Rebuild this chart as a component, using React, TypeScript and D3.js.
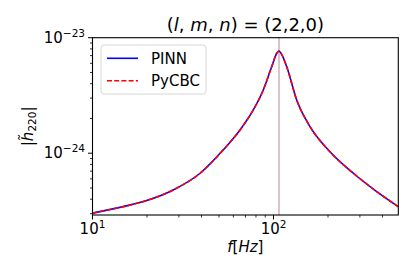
import { useEffect, useRef } from 'react'
import * as d3 from 'd3'

// values (Hz, strain amplitude)
const freqs = [10, 14.8, 19.9, 27.9, 39.3, 52.8, 65.3, 77.3, 87.8, 97.7, 104.2, 107.2, 110.5, 118.3, 134.3, 159.1, 205, 276, 371.5, 489]
const pinnAmp = [3.03e-25, 3.45e-25, 3.89e-25, 4.81e-25, 6.71e-25, 1.07e-24, 1.59e-24, 2.37e-24, 3.53e-24, 5.61e-24, 7.33e-24, 7.67e-24, 7.25e-24, 5.61e-24, 2.89e-24, 1.7e-24, 1.03e-24, 6.71e-25, 4.66e-25, 3.45e-25]
const pycbcAmp = [3.03e-25, 3.45e-25, 3.89e-25, 4.81e-25, 6.71e-25, 1.07e-24, 1.59e-24, 2.37e-24, 3.53e-24, 5.61e-24, 7.33e-24, 7.67e-24, 7.25e-24, 5.61e-24, 2.89e-24, 1.7e-24, 1.03e-24, 6.71e-25, 4.66e-25, 3.45e-25]
const peakFreq = 107.2
const xDomain = [10, 489]
const yDomain = [2.92e-25, 1e-23]
const xMajor = [10, 100]
const xMajorExp = ['1', '2']
const yMajor = [1e-24, 1e-23]
const yMajorExp = ['\u221224', '\u221223']
const xMinor = [20, 30, 40, 50, 60, 70, 80, 90, 200, 300, 400]
const yMinor = [3e-25, 4e-25, 5e-25, 6e-25, 7e-25, 8e-25, 9e-25, 2e-24, 3e-24, 4e-24, 5e-24, 6e-24, 7e-24, 8e-24, 9e-24]
const legendLabels = ['PINN', 'PyCBC']

const W = 415
const H = 277
const FONT = 'DejaVu Sans'

const App = () => {
  const svgRef = useRef(null)

  useEffect(() => {
    const left = 92.5
    const right = 398.3
    const top = 37.7
    const bottom = 215

    const svg = d3.select(svgRef.current)
    svg.selectAll('*').remove()
    svg.attr('width', W).attr('height', H)

    const x = d3.scaleLog().domain(xDomain).range([left, right])
    const y = d3.scaleLog().domain(yDomain).range([bottom, top])

    const g = svg.append('g').attr('font-family', FONT)

    // peak marker
    g.append('line')
      .attr('x1', x(peakFreq))
      .attr('x2', x(peakFreq))
      .attr('y1', top)
      .attr('y2', bottom)
      .attr('stroke', '#c9a9b2')
      .attr('stroke-width', 1.4)

    const line = d3
      .line<number>()
      .x((_, i) => x(freqs[i]))
      .y((d) => y(d))
      .curve(d3.curveMonotoneX)

    g.append('path')
      .attr('d', line(pinnAmp) as string)
      .attr('fill', 'none')
      .attr('stroke', '#0000ff')
      .attr('stroke-width', 1.6)

    g.append('path')
      .attr('d', line(pycbcAmp) as string)
      .attr('fill', 'none')
      .attr('stroke', '#ff0000')
      .attr('stroke-width', 1.6)
      .attr('stroke-dasharray', '5,2.2')

    // frame
    g.append('rect')
      .attr('x', left)
      .attr('y', top)
      .attr('width', right - left)
      .attr('height', bottom - top)
      .attr('fill', 'none')
      .attr('stroke', '#000')
      .attr('stroke-width', 1.1)

    // ticks
    xMajor.forEach((v, i) => {
      g.append('line')
        .attr('x1', x(v)).attr('x2', x(v))
        .attr('y1', bottom).attr('y2', bottom + 4.5)
        .attr('stroke', '#000').attr('stroke-width', 1)
      const t = g.append('text')
        .attr('x', x(v))
        .attr('y', bottom + 19)
        .attr('text-anchor', 'middle')
        .attr('font-size', 15)
      t.append('tspan').text('10')
      t.append('tspan').attr('font-size', 10.5).attr('dy', -6).text(xMajorExp[i])
    })
    xMinor.forEach((v) => {
      g.append('line')
        .attr('x1', x(v)).attr('x2', x(v))
        .attr('y1', bottom).attr('y2', bottom + 2.5)
        .attr('stroke', '#000').attr('stroke-width', 0.8)
    })
    yMajor.forEach((v, i) => {
      g.append('line')
        .attr('x1', left - 4.5).attr('x2', left)
        .attr('y1', y(v)).attr('y2', y(v))
        .attr('stroke', '#000').attr('stroke-width', 1)
      const t = g.append('text')
        .attr('x', left - 7.5)
        .attr('y', y(v) + 5)
        .attr('text-anchor', 'end')
        .attr('font-size', 15)
      t.append('tspan').text('10')
      t.append('tspan').attr('font-size', 10.5).attr('dy', -6).text(yMajorExp[i])
    })
    yMinor.forEach((v) => {
      g.append('line')
        .attr('x1', left - 2.5).attr('x2', left)
        .attr('y1', y(v)).attr('y2', y(v))
        .attr('stroke', '#000').attr('stroke-width', 0.8)
    })

    // title
    const title = g.append('text')
      .attr('x', (left + right) / 2)
      .attr('y', 31)
      .attr('text-anchor', 'middle')
      .attr('font-size', 18)
    title.append('tspan').text('(')
    title.append('tspan').attr('font-style', 'italic').text('l')
    title.append('tspan').text(', ')
    title.append('tspan').attr('font-style', 'italic').text('m')
    title.append('tspan').text(', ')
    title.append('tspan').attr('font-style', 'italic').text('n')
    title.append('tspan').text(') = (2,2,0)')

    // axis labels
    const xl = g.append('text')
      .attr('x', (left + right) / 2)
      .attr('y', 252)
      .attr('text-anchor', 'middle')
      .attr('font-size', 15)
    xl.append('tspan').attr('font-style', 'italic').text('f')
    xl.append('tspan').text('[')
    xl.append('tspan').attr('font-style', 'italic').text('Hz')
    xl.append('tspan').text(']')

    const yl = g.append('text')
      .attr('transform', `translate(33,${(top + bottom) / 2}) rotate(-90)`)
      .attr('text-anchor', 'middle')
      .attr('font-size', 15)
    yl.append('tspan').text('|')
    yl.append('tspan').attr('font-style', 'italic').text('h\u0303')
    yl.append('tspan').attr('font-size', 10.5).attr('dy', 3).text('220')
    yl.append('tspan').attr('dy', -3).text('|')

    // legend
    const lg = g.append('g')
    lg.append('rect')
      .attr('x', 101).attr('y', 45)
      .attr('width', 105).attr('height', 49)
      .attr('rx', 3)
      .attr('fill', '#fff').attr('fill-opacity', 0.8)
      .attr('stroke', '#d6d6d6').attr('stroke-width', 1)
    const legendColors = ['#0000ff', '#ff0000']
    legendLabels.forEach((lab, i) => {
      const ly = 58.3 + i * 22.4
      lg.append('line')
        .attr('x1', 107).attr('x2', 138)
        .attr('y1', ly).attr('y2', ly)
        .attr('stroke', legendColors[i])
        .attr('stroke-width', 1.6)
        .attr('stroke-dasharray', i === 1 ? '5,2.2' : null)
      lg.append('text')
        .attr('x', 151).attr('y', ly + 5.4)
        .attr('font-size', 15)
        .text(lab)
    })
  }, [])

  return <svg ref={svgRef} style={{ position: 'absolute', left: 0, top: 0 }}></svg>
}

export default App
